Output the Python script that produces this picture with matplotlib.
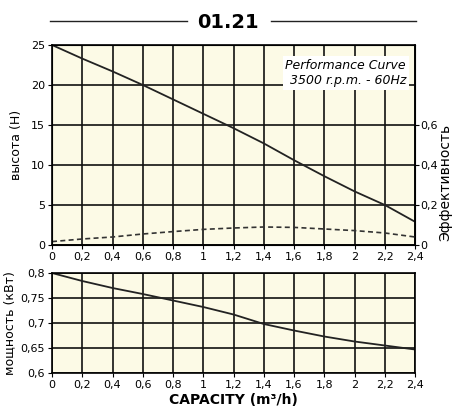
import numpy as np
import matplotlib.pyplot as plt
from matplotlib.ticker import FuncFormatter

plt.rcParams['font.family'] = ['Liberation Sans Narrow', 'DejaVu Sans']
plt.rcParams['font.size'] = 8

capacity = [0, 0.2, 0.4, 0.6, 0.8, 1.0, 1.2, 1.4, 1.6, 1.8, 2.0, 2.2, 2.4]
head = [25, 23.3, 21.7, 20, 18.2, 16.4, 14.6, 12.7, 10.6, 8.6, 6.7, 5.0, 2.9]
efficiency = [0.017, 0.03, 0.04, 0.055, 0.067, 0.078, 0.085, 0.09, 0.088, 0.08, 0.072, 0.06, 0.04]
power = [0.8, 0.784, 0.77, 0.758, 0.745, 0.732, 0.717, 0.698, 0.685, 0.673, 0.663, 0.655, 0.647]

x_ticks = np.arange(0, 2.41, 0.2)
bg = '#fcfae6'


def comma(v, pos):
    s = ('%.2f' % v).rstrip('0').rstrip('.')
    return s.replace('.', ',')


fig = plt.figure(figsize=(4.55, 4.09), dpi=100)

# top: head + efficiency
ax1 = fig.add_axes([0.1143, 0.401, 0.798, 0.489])
ax1.set_facecolor(bg)
ax1.plot(capacity, head, color='#222222', lw=1.3)
ax1.set_xlim(0, 2.4)
ax1.set_ylim(0, 25)
ax1.set_xticks(x_ticks)
ax1.set_yticks([0, 5, 10, 15, 20, 25])
ax1.xaxis.set_major_formatter(FuncFormatter(comma))
ax1.grid(True, color='#111111', lw=1.2)
ax1.tick_params(length=3, pad=2)
for s in ax1.spines.values():
    s.set_linewidth(1.2)
ax1.set_ylabel('высота (Н)', family=['DejaVu Sans'], fontsize=9, labelpad=6)

ax2 = ax1.twinx()
ax2.plot(capacity, efficiency, color='#333333', lw=1.2, ls=(0, (3, 2)))
ax2.set_ylim(0, 1.0)
ax2.set_yticks([0, 0.2, 0.4, 0.6])
ax2.yaxis.set_major_formatter(FuncFormatter(comma))
ax2.tick_params(length=3, pad=1)
fig.text(0.978, 0.555, 'Эффективность', family=['DejaVu Sans'], fontsize=10,
         rotation=90, ha='center', va='center')

ax1.text(0.975, 0.93, 'Performance Curve\n3500 r.p.m. - 60Hz', transform=ax1.transAxes,
         ha='right', va='top', style='italic', fontsize=9, linespacing=1.2,
         bbox=dict(facecolor='white', edgecolor='none', pad=2))

# title with lines
fig.text(0.5, 0.945, '01.21', ha='center', va='center', fontsize=14, weight='bold',
         family=['DejaVu Sans'])
fig.add_artist(plt.Line2D([0.11, 0.41], [0.948, 0.948], color='#222222', lw=1))
fig.add_artist(plt.Line2D([0.595, 0.915], [0.948, 0.948], color='#222222', lw=1))

# bottom: power
ax3 = fig.add_axes([0.1143, 0.088, 0.798, 0.2445])
ax3.set_facecolor(bg)
ax3.plot(capacity, power, color='#222222', lw=1.3)
ax3.set_xlim(0, 2.4)
ax3.set_ylim(0.6, 0.8)
ax3.set_xticks(x_ticks)
ax3.set_yticks([0.6, 0.65, 0.7, 0.75, 0.8])
ax3.xaxis.set_major_formatter(FuncFormatter(comma))
ax3.yaxis.set_major_formatter(FuncFormatter(comma))
ax3.grid(True, color='#111111', lw=1.2)
ax3.tick_params(length=3, pad=2)
for s in ax3.spines.values():
    s.set_linewidth(1.2)
ax3.set_ylabel('мощность (кВт)', family=['DejaVu Sans'], fontsize=9, labelpad=3)
ax3.set_xlabel('CAPACITY (m³/h)', weight='bold', fontsize=10, labelpad=2)

plt.savefig('out.png', dpi=100)
plt.close()
